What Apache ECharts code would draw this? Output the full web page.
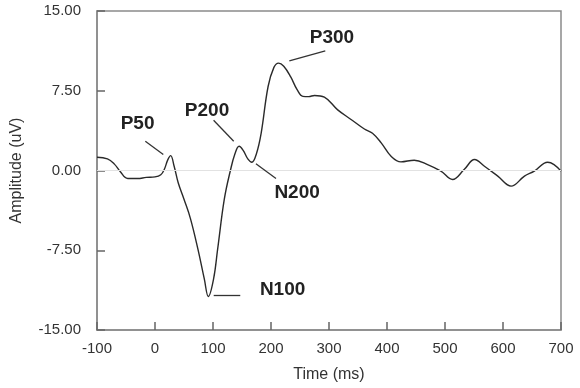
<!DOCTYPE html>
<html><head><meta charset="utf-8">
<script src="https://cdn.jsdelivr.net/npm/echarts@6/dist/echarts.min.js"></script>
<style>html,body{margin:0;padding:0;background:#fff}#c{width:580px;height:388px}</style>
</head><body><div id="c"></div>
<script>
var timesMs = [-100,-82,-70,-60,-47,-30,-15,0,10,16,22,27,33,40,50,61,74,85,92,101,108,119.5,130,138,145,152,160,167,175,183,195,205,213,222,234,245,255,265,275,292,315,338,361,375,390,407,424,447,470,493,513,533,551,568,591,614,637,654,677,688,700];
var amplitude = [1.25,1.1,0.6,-0.1,-0.75,-0.75,-0.65,-0.6,-0.4,0.1,1.0,1.4,0.4,-1.15,-2.7,-4.5,-7.4,-10.2,-11.85,-10.2,-7.4,-2.7,0,1.6,2.28,1.9,1.1,0.78,1.6,3.5,7.9,9.7,10.1,9.8,8.8,7.6,6.97,6.95,7.06,6.9,5.7,4.8,3.9,3.5,2.6,1.34,0.81,0.97,0.56,-0.06,-0.84,0.09,1.03,0.4,-0.53,-1.47,-0.53,-0.06,0.78,0.56,-0.06];
var yTicks = [-15, -7.5, 0, 7.5, 15];
var xTicks = [-100,0,100,200,300,400,500,600,700];
var peakNames = ['P50','P200','N200','P300','N100'];
var labelPos = [[-30,4.36],[89.7,5.62],[245,-2.06],[305,12.47],[220,-11.25]];
var leaderFrom = [[-16.7,2.75],[101,4.72],[174,0.63],[231.6,10.31],[101.2,-11.69]];
var leaderTo = [[14.3,1.5],[135.7,2.75],[208.6,-0.75],[293.6,11.25],[147,-11.69]];

var data = timesMs.map(function(t,i){return [t, amplitude[i]];});
var font = '"Liberation Sans", Arial, sans-serif';
var chart = echarts.init(document.getElementById('c'), null, {renderer:'canvas'});
chart.setOption({
  animation:false,
  backgroundColor:'#fff',
  grid:{left:97,right:19,top:11,bottom:56,show:true,borderColor:'#8a8a8a',borderWidth:1.5},
  xAxis:{type:'value',min:-100,max:700,interval:100,position:'bottom',
    name:'Time (ms)',nameLocation:'middle',nameGap:37,
    nameTextStyle:{fontFamily:font,fontSize:16,color:'#333'},
    axisLine:{show:true,onZero:false,lineStyle:{color:'#8a8a8a',width:1.5}},
    axisTick:{show:true,inside:true,length:8,lineStyle:{color:'#666',width:1.5}},
    axisLabel:{fontFamily:font,fontSize:15,color:'#333',margin:11},
    splitLine:{show:false}},
  yAxis:{type:'value',min:-15,max:15,interval:7.5,position:'left',
    name:'Amplitude (uV)',nameLocation:'middle',nameGap:72,
    nameTextStyle:{fontFamily:font,fontSize:16,color:'#333'},
    axisLine:{show:true,onZero:false,lineStyle:{color:'#8a8a8a',width:1.5}},
    axisTick:{show:true,inside:true,length:8,lineStyle:{color:'#666',width:1.5}},
    axisLabel:{fontFamily:font,fontSize:15,color:'#333',margin:16,formatter:function(v){return v.toFixed(2);}},
    splitLine:{show:false}},
  series:[{type:'line',data:data,smooth:0.4,symbol:'none',
    lineStyle:{color:'#2a2a2a',width:1.4},
    markLine:{silent:true,symbol:'none',label:{show:false},
      data:[[{coord:[-100,0],lineStyle:{color:'#e2e2e2',width:1,type:'solid'}},{coord:[700,0]}]].concat(
        leaderFrom.map(function(p,i){return [{coord:p,lineStyle:{color:'#333',width:1.3,type:'solid'}},{coord:leaderTo[i]}];}))},
    markPoint:{silent:true,symbol:'circle',symbolSize:0,
      data:peakNames.map(function(n,i){return {coord:labelPos[i],value:n};}),
      label:{show:true,position:'inside',formatter:function(p){return p.value;},
        fontFamily:font,fontWeight:'bold',fontSize:19,color:'#222'}}
  }]
});
</script></body></html>
